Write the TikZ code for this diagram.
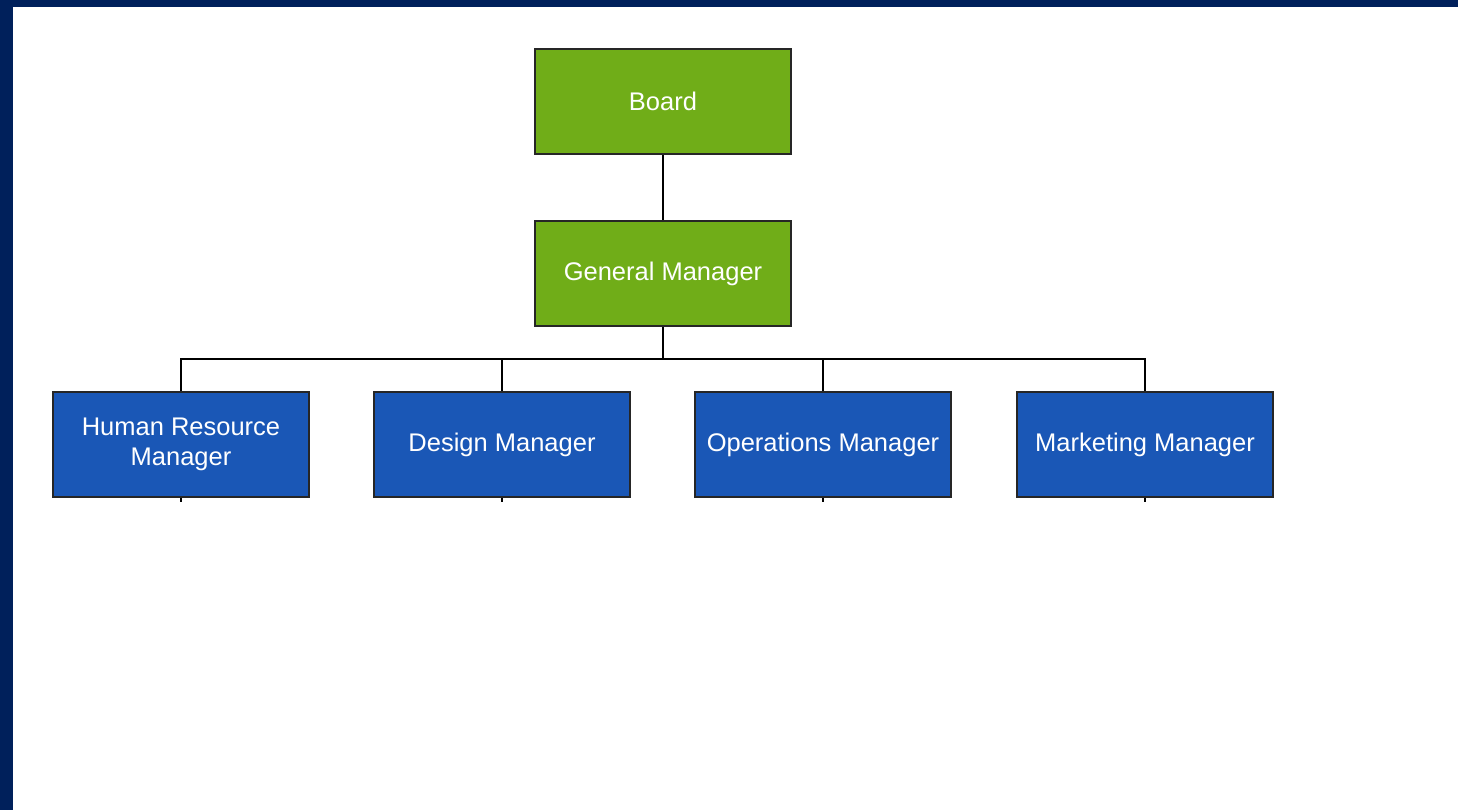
\documentclass[tikz,border=0pt]{standalone}
\usepackage{fontspec}
\setmainfont{Liberation Sans}
\usetikzlibrary{calc}
\begin{document}
\begin{tikzpicture}[x=1pt,y=-1pt,
  every node/.style={font=\fontsize{25.5}{30}\selectfont},
  box/.style={draw=black!85, line width=1.8pt, minimum width=256pt, minimum height=105pt,
    text=white, align=center, inner sep=0pt},
  topbox/.style={box, fill=greenfill},
  mgrbox/.style={box, fill=bluefill},
  link/.style={draw=black, line width=1.6pt}]
\definecolor{greenfill}{HTML}{70AD18}
\definecolor{bluefill}{HTML}{1A57B6}
\definecolor{navy}{HTML}{00205B}
% page and frame
\useasboundingbox (0,0) rectangle (1458,810);
\fill[white] (0,0) rectangle (1458,810);
\fill[navy] (0,0) rectangle (1458,7);
\fill[navy] (0,0) rectangle (13,810);
% top levels
\node[topbox] (board) at (663,101.5) {Board};
\node[topbox] (gm) at (663,273.5) {General Manager};
% managers
\node[mgrbox] (hr)  at (181,444.5) {Human Resource\\Manager};
\node[mgrbox] (des) at (502,444.5) {Design Manager};
\node[mgrbox] (ops) at (823,444.5) {Operations Manager};
\node[mgrbox] (mkt) at (1145,444.5) {Marketing Manager};
% connectors
\draw[link] (board.south) -- (gm.north);
\coordinate (bus) at (663,359);
\draw[link] (gm.south) -- (bus);
\foreach \m in {hr,des,ops,mkt}{
  \draw[link] (bus) -| (\m.north);
  \coordinate (\m-tail) at ($(\m.south)+(0,4)$);
  \draw[link] (\m.south) -- (\m-tail);
}
\end{tikzpicture}
\end{document}
